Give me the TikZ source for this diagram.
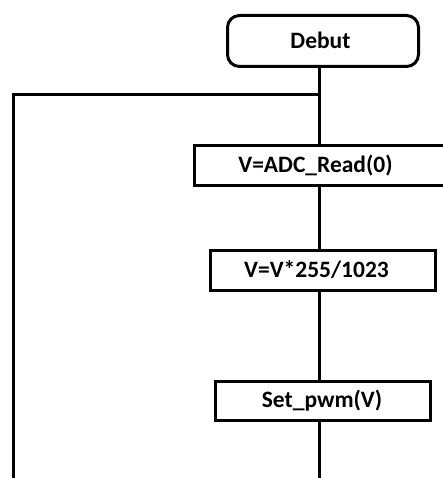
\documentclass[tikz,border=0pt]{standalone}
\usepackage{fontspec}
\setmainfont{Carlito}
\begin{document}
\begin{tikzpicture}[x=1pt,y=-1pt,
  box/.style={draw, line width=3pt, inner sep=0pt, fill=white},
  txt/.style={font=\bfseries\fontsize{23.5}{27}\selectfont, inner sep=0pt},
  wire/.style={line width=3pt}]
\useasboundingbox (0,0) rectangle (443,478);
\clip (0,0) rectangle (443,478);
% boxes
\node[box, rounded corners=12pt, minimum width=191pt, minimum height=51pt] (debut) at (323,41) {};
\node[box, minimum width=251pt, minimum height=40pt] (adc) at (320,165.5) {};
\node[box, minimum width=225pt, minimum height=40pt] (mul) at (323,270.5) {};
\node[box, minimum width=215pt, minimum height=39pt] (pwm) at (323,401) {};
% texts
\node[txt] (tdebut) at (320.5,40) {Debut};
\node[txt] (tadc) at (315.5,166) {V=ADC\_Read(0)};
\node[txt] (tmul) at (316.5,270) {V=V*255/1023};
\node[txt] (tpwm) at (322,401) {Set\_pwm(V)};
% coordinates
\coordinate (j) at (319,95);
\coordinate (lt) at (13,95);
\coordinate (lb) at (13,480);
\coordinate (bot) at (319,480);
% connectors
\draw[wire] (j |- debut.south) -- (j) -- (j |- adc.north);
\draw[wire] (j |- adc.south) -- (j |- mul.north);
\draw[wire] (j |- mul.south) -- (j |- pwm.north);
\draw[wire] (j |- pwm.south) -- (bot);
\draw[wire] (j) -- (lt) -- (lb);
\end{tikzpicture}
\end{document}
